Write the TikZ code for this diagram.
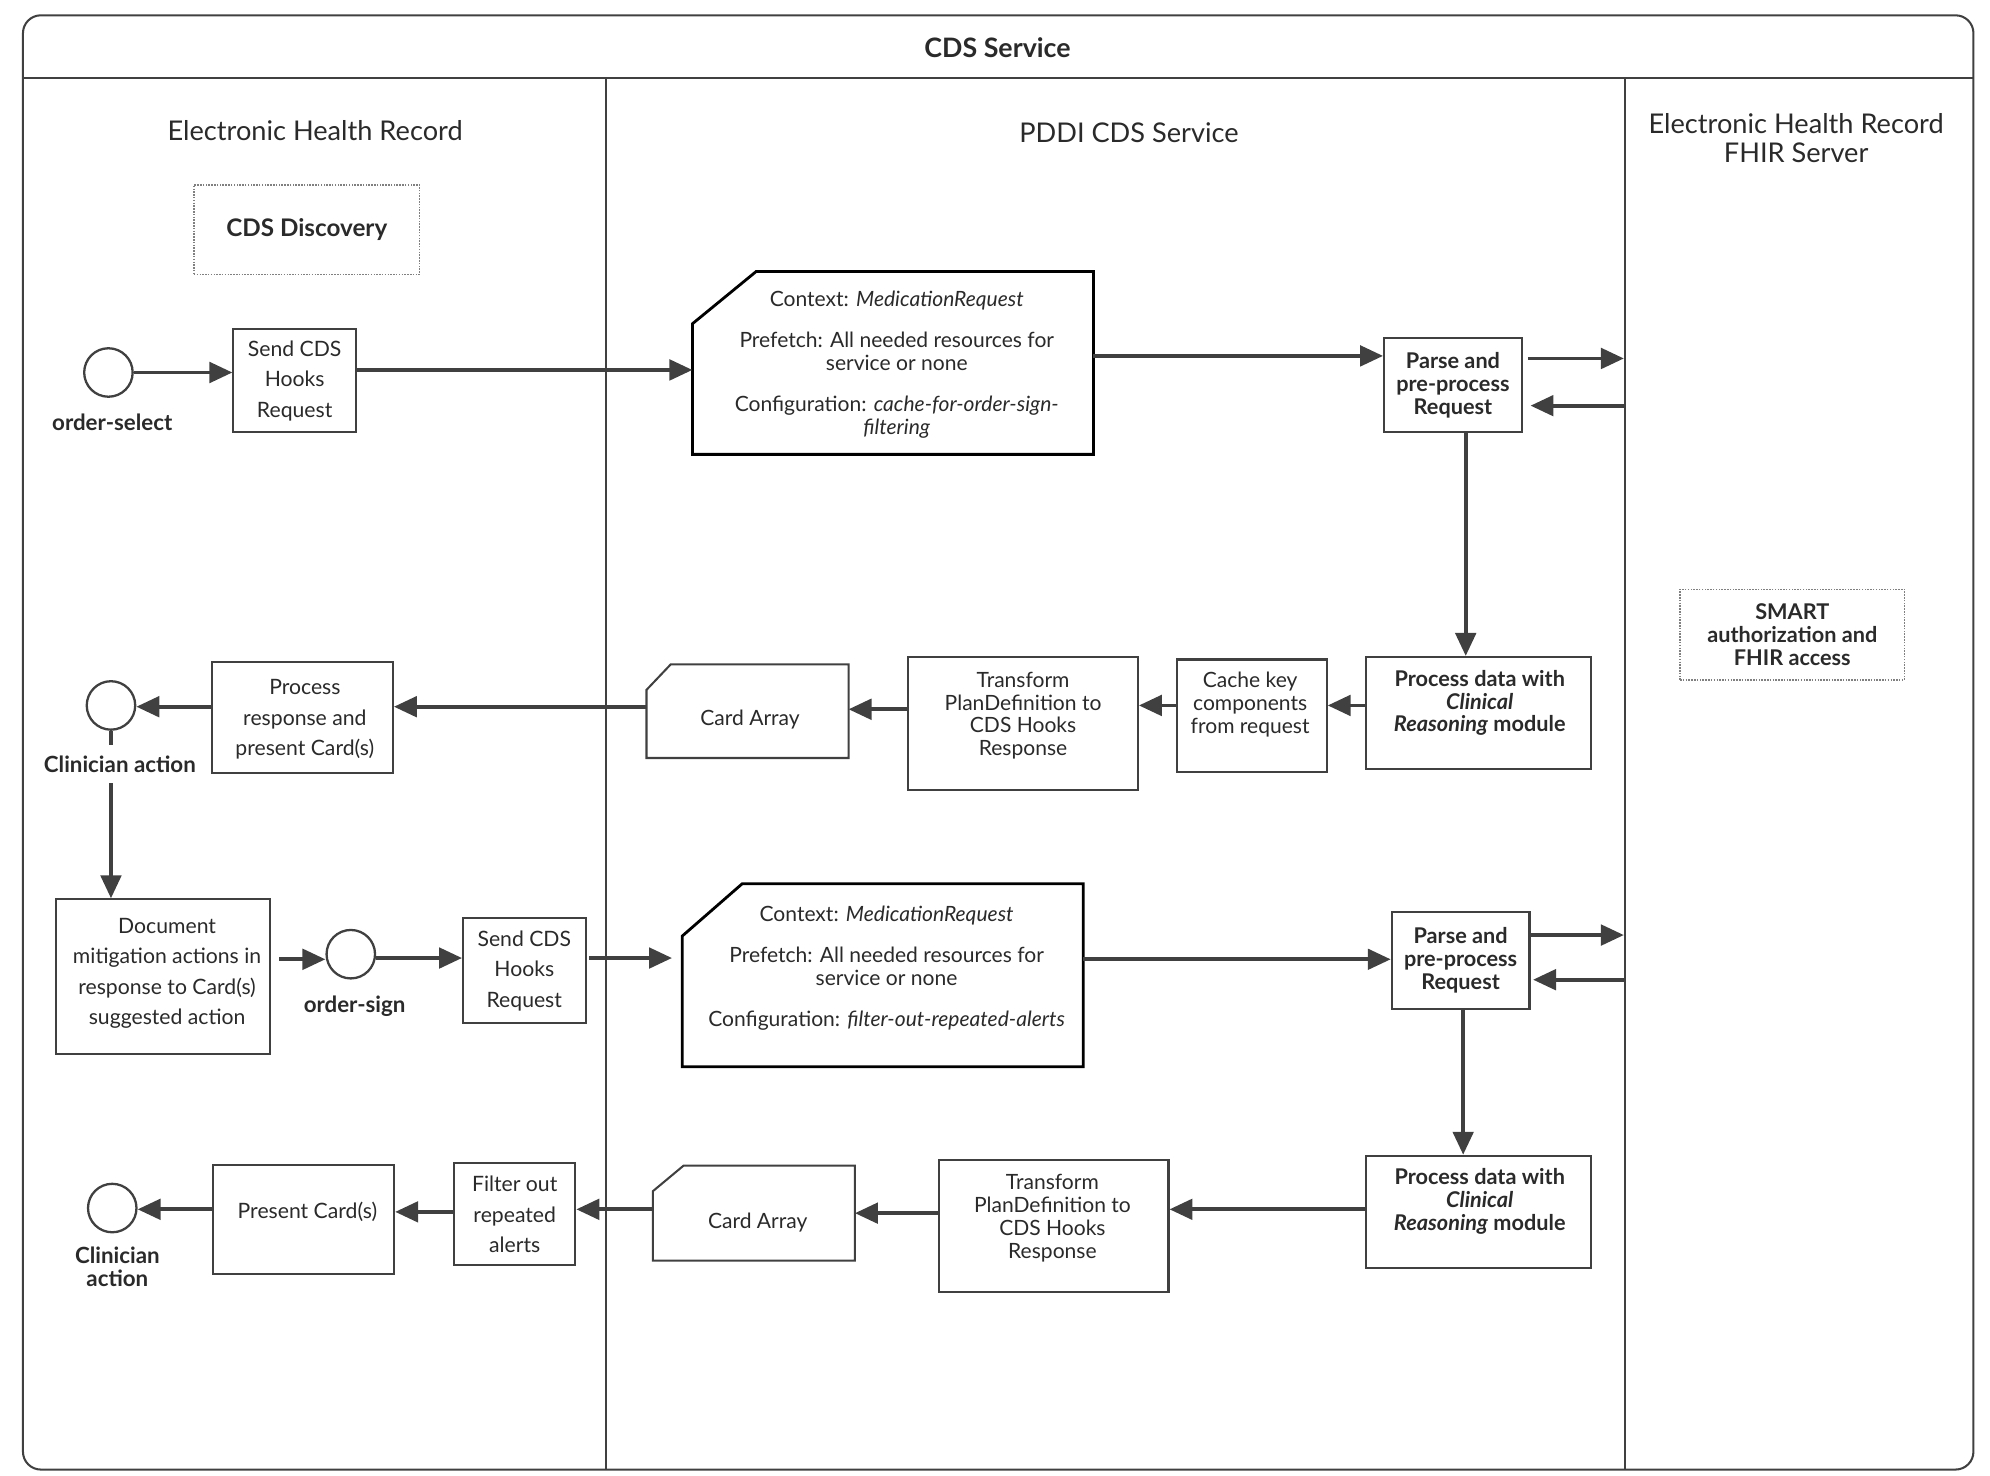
\documentclass[tikz,border=0pt]{standalone}
\usepackage{fontspec}
\setmainfont{Lato}
\usetikzlibrary{arrows.meta,calc}
\definecolor{linec}{HTML}{404040}
\definecolor{textc}{HTML}{2a2a2a}
\newcommand\fMain{\fontsize{16.5}{18}\selectfont}
\newcommand\fBold{\fontsize{17}{18}\selectfont\bfseries}
\newcommand\fLeft{\fontsize{16.6}{24}\selectfont}
\newcommand\fLane{\fontsize{21.3}{23}\selectfont}
\newcommand\fTitle{\fontsize{21}{22}\selectfont\bfseries}
\newcommand\arrR[3]{\draw[arr] (#1.east |- 0,#3) -- (#2.west |- 0,#3);}
\newcommand\arrL[3]{\draw[arr] (#1.west |- 0,#3) -- (#2.east |- 0,#3);}
\begin{document}
\begin{tikzpicture}[x=1pt,y=-1pt,
  every node/.style={text=textc},
  box/.style={draw=linec, line width=1.6pt, fill=white, inner sep=0pt, align=center, font=\fMain},
  lbox/.style={box, font=\fLeft},
  dotbox/.style={draw=gray, line width=1.2pt, densely dotted, inner sep=0pt, align=center, font=\fBold},
  txt/.style={align=center, inner sep=0pt, font=\fMain},
  evt/.style={circle, draw=linec, line width=1.8pt, minimum size=38pt, inner sep=0pt},
  evlabel/.style={fill=white, align=center, inner sep=2pt, font=\fontsize{17.5}{18}\selectfont\bfseries},
  ghost/.style={inner sep=0pt},
  docshape/.style={draw=black, line width=2.2pt, fill=white, line join=miter},
  arr/.style={draw=linec, line width=3pt, -{Triangle[length=18pt,width=16pt]}}
]
\useasboundingbox (0,0) rectangle (1560,1157);

% frame and lanes
\draw[linec, line width=1.6pt, rounded corners=14pt] (18,12) rectangle (1547,1152);
\draw[linec, line width=1.6pt] (18,61) -- (1547,61);
\draw[linec, line width=1.6pt] (475,61) -- (475,1152);
\draw[linec, line width=1.6pt] (1274,61) -- (1274,1152);
\node[font=\fTitle] (title) at (782,37) {CDS Service};
\node[font=\fLane] (lane1) at (247,102) {Electronic Health Record};
\node[font=\fLane] (lane2) at (885,104) {PDDI CDS Service};
\node[font=\fLane, align=center] (lane3) at (1408,108) {Electronic Health Record\\FHIR Server};

% lane boundary points
\coordinate (fA) at (1273,281);
\coordinate (fB) at (1273,318);
\coordinate (fC) at (1273,733);
\coordinate (fD) at (1273,768);

% dotted boxes
\node[dotbox, minimum width=177pt, minimum height=70pt] (disc) at (240.5,180) {\fontsize{19}{20}\selectfont CDS Discovery};
\node[dotbox, minimum width=176pt, minimum height=71pt] (smart) at (1405,497.5) {SMART\\authorization and\\FHIR access};

% ---- row 1
\node[evt] (c1) at (85,292) {};
\node[lbox, minimum width=96pt, minimum height=81pt] (send1) at (231,298.5) {Send CDS\\Hooks\\Request};

\node[ghost, minimum width=314pt, minimum height=143pt] (ctx1) at (700,284.5) {};
\draw[docshape] (ctx1.south west) -- (ctx1.south east) -- (ctx1.north east) -- ($(ctx1.north west)+(50,0)$) -- ($(ctx1.north west)+(0,41)$) -- cycle;
\node[txt] (ctx1t) at (703,286) {Context: \textit{MedicationRequest}\\[14pt]Prefetch: All needed resources for\\service or none\\[14pt]Configuration: \textit{cache-for-order-sign-}\\\textit{filtering}};

\node[box, minimum width=108pt, minimum height=74pt, font=\fBold] (parse1) at (1139,302) {Parse and\\pre-process\\Request};

% ---- row 2
\node[box, minimum width=176pt, minimum height=88pt] (p1) at (1159,559) {};
\node[txt, font=\fBold] (p1t) at (1160,551) {Process data with\\\textit{Clinical}\\\textit{Reasoning} module};
\node[box, minimum width=117pt, minimum height=88pt] (cache) at (981.5,561) {};
\node[txt] (cachet) at (980,552) {Cache key\\components\\from request};
\node[box, minimum width=180pt, minimum height=104pt] (tr1) at (802,567) {};
\node[txt] (tr1t) at (802,561) {Transform\\PlanDefinition to\\CDS Hooks\\Response};
\node[ghost, minimum width=158pt, minimum height=73pt] (card1) at (586,557.5) {};
\draw[linec, line width=1.6pt, fill=white] (card1.south west) -- (card1.south east) -- (card1.north east) -- ($(card1.north west)+(19,0)$) -- ($(card1.north west)+(0,20)$) -- cycle;
\node[txt] (card1t) at (588,564) {Card Array};
\node[lbox, minimum width=142pt, minimum height=87pt] (proc) at (237,562.5) {};
\node[txt, font=\fLeft] (proct) at (239,564) {Process\\response and\\present Card(s)};
\node[evt] (c2) at (87,553) {};

% ---- row 3
\node[lbox, minimum width=168pt, minimum height=121pt] (doc) at (128,765.5) {};
\node[txt, font=\fLeft] (doct) at (131,763) {Document\\mitigation actions in\\response to Card(s)\\suggested action};
\node[evt] (c3) at (275,748) {};
\node[lbox, minimum width=96pt, minimum height=82pt] (send2) at (411,761) {Send CDS\\Hooks\\Request};
\node[ghost, minimum width=314pt, minimum height=143pt] (ctx2) at (692,764.5) {};
\draw[docshape] (ctx2.south west) -- (ctx2.south east) -- (ctx2.north east) -- ($(ctx2.north west)+(47,0)$) -- ($(ctx2.north west)+(0,41)$) -- cycle;
\node[txt] (ctx2t) at (695,759) {Context: \textit{MedicationRequest}\\[14pt]Prefetch: All needed resources for\\service or none\\[14pt]Configuration: \textit{filter-out-repeated-alerts}};
\node[box, minimum width=108pt, minimum height=76pt, font=\fBold] (parse2) at (1145,753) {Parse and\\pre-process\\Request};

% ---- row 4
\node[box, minimum width=176pt, minimum height=88pt] (p2) at (1159,950) {};
\node[txt, font=\fBold] (p2t) at (1160,942) {Process data with\\\textit{Clinical}\\\textit{Reasoning} module};
\node[box, minimum width=180pt, minimum height=104pt] (tr2) at (826,961) {};
\node[txt] (tr2t) at (825,955) {Transform\\PlanDefinition to\\CDS Hooks\\Response};
\node[ghost, minimum width=158pt, minimum height=74pt] (card2) at (591,951) {};
\draw[linec, line width=1.6pt, fill=white] (card2.south west) -- (card2.south east) -- (card2.north east) -- ($(card2.north west)+(24,0)$) -- ($(card2.north west)+(0,20)$) -- cycle;
\node[txt] (card2t) at (594,958) {Card Array};
\node[lbox, minimum width=95pt, minimum height=80pt] (filter) at (403.5,952) {Filter out\\repeated\\alerts};
\node[lbox, minimum width=142pt, minimum height=86pt] (present) at (238,956) {};
\node[txt, font=\fLeft] (presentt) at (241,950) {Present Card(s)};
\node[evt] (c4) at (88,947) {};

% ---- connectors
\arrR{c1}{send1}{292}
\arrR{send1}{ctx1}{290}
\arrR{ctx1}{parse1}{279}
\draw[arr, shorten <=4pt] (parse1.east |- fA) -- (fA);
\draw[arr, shorten >=6pt] (fB) -- (parse1.east |- fB);
\draw[arr] (parse1.south -| 1149,0) -- (p1.north -| 1149,0);
\arrL{p1}{cache}{553}
\arrL{cache}{tr1}{553}
\arrL{tr1}{card1}{556}
\arrL{card1}{proc}{554}
\arrL{proc}{c2}{554}
\draw[arr] (c2.south) -- (doc.north -| c2.south);
\draw[arr, shorten <=6pt] (doc.east |- 0,752) -- (c3.west |- 0,752);
\arrR{c3}{send2}{751}
\draw[arr, shorten <=2pt, shorten >=8pt] (send2.east |- 0,751) -- (ctx2.west |- 0,751);
\arrR{ctx2}{parse2}{752}
\draw[arr] (parse2.east |- fC) -- (fC);
\draw[arr, shorten >=2pt] (fD) -- (parse2.east |- fD);
\draw[arr] (parse2.south -| 1147,0) -- (p2.north -| 1147,0);
\arrL{p2}{tr2}{948}
\arrL{tr2}{card2}{951}
\arrL{card2}{filter}{948}
\arrL{filter}{present}{950}
\arrL{present}{c4}{948}

% event labels
\node[evlabel] (l1) at (88,331) {order-select};
\node[evlabel, minimum height=30pt] (l2) at (94,599) {Clinician action};
\node[evlabel] (l3) at (278,789) {order-sign};
\node[evlabel] (l4) at (92,993) {Clinician\\action};
\end{tikzpicture}
\end{document}
